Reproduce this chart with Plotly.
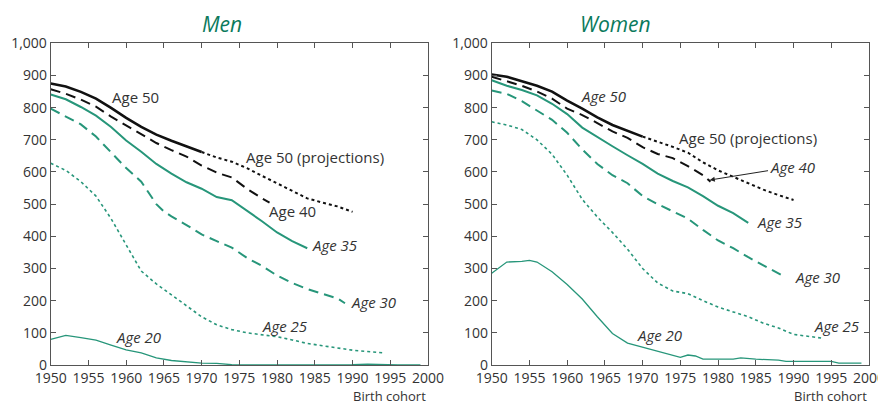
import plotly.graph_objects as go

# ---------------- DATA ----------------
# Men
m50_years = [1950, 1952, 1954, 1956, 1958, 1960, 1962, 1964, 1966, 1968, 1970]
m50_vals = [875, 866, 849, 828, 799, 768, 740, 716, 697, 679, 662]
m50p_years = [1970, 1972, 1974, 1976, 1978, 1980, 1982, 1984, 1986, 1988, 1990]
m50p_vals = [662, 645, 632, 612, 588, 565, 540, 518, 505, 493, 476]
m40_years = [1950, 1952, 1954, 1956, 1958, 1960, 1962, 1964, 1966, 1968, 1970, 1972, 1974, 1976, 1978, 1979]
m40_vals = [857, 843, 825, 803, 772, 745, 718, 690, 668, 648, 620, 598, 583, 548, 518, 505]
m35_years = [1950, 1952, 1954, 1956, 1958, 1960, 1962, 1964, 1966, 1968, 1970, 1972, 1974, 1976, 1978, 1980, 1982, 1984]
m35_vals = [841, 826, 802, 775, 740, 698, 663, 625, 595, 568, 548, 522, 512, 480, 447, 412, 385, 363]
m30_years = [1950, 1952, 1954, 1956, 1958, 1960, 1962, 1964, 1965, 1966, 1968, 1970, 1972, 1974, 1976, 1978, 1980, 1982, 1984, 1986, 1988, 1989]
m30_vals = [797, 772, 748, 710, 660, 612, 570, 500, 477, 462, 435, 406, 385, 365, 333, 308, 278, 255, 236, 222, 207, 192]
m25_years = [1950, 1952, 1954, 1956, 1958, 1960, 1962, 1964, 1966, 1968, 1970, 1972, 1974, 1976, 1978, 1980, 1982, 1984, 1986, 1988, 1990, 1992, 1994]
m25_vals = [627, 605, 570, 525, 455, 372, 292, 252, 218, 183, 150, 125, 110, 100, 93, 88, 78, 67, 60, 52, 46, 42, 38]
m20_years = [1950, 1952, 1954, 1956, 1958, 1960, 1962, 1964, 1966, 1968, 1970, 1972, 1974, 1976, 1980, 1985, 1990, 1992, 1994, 1996, 1999]
m20_vals = [80, 92, 85, 77, 62, 47, 38, 22, 14, 10, 6, 5, 1, 0, 0, 0, 1, 3, 1, 0, 0]

# Women
w50_years = [1950, 1952, 1954, 1956, 1958, 1960, 1962, 1964, 1966, 1968, 1970]
w50_vals = [903, 896, 882, 868, 850, 822, 797, 770, 746, 728, 710]
w50p_years = [1970, 1972, 1974, 1976, 1978, 1980, 1982, 1984, 1986, 1988, 1990]
w50p_vals = [710, 695, 678, 660, 630, 605, 585, 563, 545, 528, 513]
w40_years = [1950, 1952, 1954, 1956, 1958, 1960, 1962, 1964, 1966, 1968, 1970, 1972, 1974, 1976, 1978, 1979]
w40_vals = [896, 883, 868, 850, 828, 797, 777, 752, 726, 706, 677, 656, 643, 618, 590, 570]
w35_years = [1950, 1952, 1954, 1956, 1958, 1960, 1962, 1964, 1966, 1968, 1970, 1972, 1974, 1976, 1978, 1980, 1982, 1984]
w35_vals = [885, 868, 855, 838, 812, 780, 738, 708, 680, 652, 625, 595, 572, 552, 525, 495, 472, 442]
w30_years = [1950, 1952, 1954, 1956, 1958, 1960, 1962, 1964, 1966, 1968, 1970, 1972, 1974, 1976, 1978, 1980, 1982, 1984, 1986, 1988, 1989]
w30_vals = [853, 843, 820, 790, 762, 722, 670, 625, 590, 565, 525, 500, 478, 455, 420, 387, 363, 335, 310, 285, 272]
w25_years = [1950, 1952, 1954, 1956, 1958, 1960, 1962, 1964, 1966, 1968, 1970, 1972, 1974, 1976, 1978, 1980, 1982, 1984, 1986, 1988, 1990, 1992, 1994]
w25_vals = [756, 746, 732, 700, 655, 590, 515, 460, 412, 360, 300, 255, 230, 222, 200, 180, 165, 150, 130, 115, 95, 88, 83]
w20_years = [1950, 1952, 1954, 1955, 1956, 1958, 1960, 1962, 1964, 1966, 1968, 1970, 1972, 1974, 1975, 1976, 1977, 1978, 1982, 1983, 1985, 1988, 1989, 1995, 1996, 1999]
w20_vals = [285, 320, 322, 325, 320, 290, 250, 205, 150, 98, 68, 55, 42, 30, 24, 31, 28, 18, 18, 22, 18, 15, 11, 11, 6, 6]

x_ticks = list(range(1950, 2001, 5))
y_ticks = list(range(0, 1001, 100))

# ---------------- STYLE ----------------
GREEN = "#27967a"
TITLE_GREEN = "#0b7a5c"
BLACK = "#111111"
TXT = "#333333"
FONT = "Open Sans"
W, H = 886, 408
OFF = 8  # page body margin: the figure is drawn 8px right/down of the window corner


def px_x(p):
    return (p - OFF) / W


def px_y(p):
    return 1 - (p - OFF) / H


fig = go.Figure()


def add(xs, ys, color, width, dash, axis):
    fig.add_trace(go.Scatter(x=xs, y=ys, mode="lines",
                             line=dict(color=color, width=width, dash=dash),
                             xaxis="x" if axis == 1 else "x2",
                             yaxis="y" if axis == 1 else "y2",
                             hoverinfo="skip", showlegend=False))


for ax, d in ((1, dict(a20=(m20_years, m20_vals), a25=(m25_years, m25_vals), a30=(m30_years, m30_vals),
                        a35=(m35_years, m35_vals), a40=(m40_years, m40_vals), a50=(m50_years, m50_vals),
                        a50p=(m50p_years, m50p_vals))),
              (2, dict(a20=(w20_years, w20_vals), a25=(w25_years, w25_vals), a30=(w30_years, w30_vals),
                        a35=(w35_years, w35_vals), a40=(w40_years, w40_vals), a50=(w50_years, w50_vals),
                        a50p=(w50p_years, w50p_vals)))):
    add(*d["a20"], GREEN, 1.3, "solid", ax)
    add(*d["a25"], GREEN, 1.6, "dot", ax)
    add(*d["a30"], GREEN, 2.0, "10px,6px", ax)
    add(*d["a35"], GREEN, 2.0, "solid", ax)
    add(*d["a40"], BLACK, 2.0, "10px,6px", ax)
    add(*d["a50"], BLACK, 2.6, "solid", ax)
    add(*d["a50p"], BLACK, 2.0, "dot", ax)

axis_common = dict(showline=True, mirror="ticks", linecolor="#555555", linewidth=1,
                   ticks="inside", ticklen=5, tickcolor="#555555", tickwidth=1,
                   showgrid=False, zeroline=False, automargin=False,
                   tickfont=dict(family=FONT, size=14, color=TXT))

ydom = [px_y(365), px_y(43.3)]
fig.update_layout(
    width=W, height=H,
    margin=dict(l=0, r=0, t=0, b=0, pad=0),
    paper_bgcolor="white", plot_bgcolor="white",
    font=dict(family=FONT, color=TXT),
    xaxis=dict(domain=[px_x(50.7), px_x(428)], range=[1950, 2000], tickvals=x_ticks, anchor="y", **axis_common),
    yaxis=dict(domain=ydom, range=[0, 1000], tickvals=y_ticks, tickformat=",", anchor="x", **axis_common),
    xaxis2=dict(domain=[px_x(491.7), px_x(869)], range=[1950, 2000], tickvals=x_ticks, anchor="y2", **axis_common),
    yaxis2=dict(domain=ydom, range=[0, 1000], tickvals=y_ticks, tickformat=",", anchor="x2", **axis_common),
)


def label(text, x, y, axis, italic=True, **kw):
    fig.add_annotation(text=text, x=x, y=y, xref="x" if axis == 1 else "x2",
                       yref="y" if axis == 1 else "y2", showarrow=False,
                       font=dict(family=FONT, size=15, color=TXT, style="italic" if italic else "normal"),
                       **kw)


# Men labels
label("Age 50", 1961.2, 834, 1, italic=False)
label("Age 50 (projections)", 1985.0, 648, 1, italic=False)
label("Age 40", 1982.1, 480, 1, italic=False)
label("Age 35", 1987.7, 373, 1)
label("Age 30", 1992.8, 197, 1)
label("Age 25", 1981.0, 121, 1)
label("Age 20", 1961.6, 88, 1)

# Women labels
label("Age 50", 1964.8, 836, 2)
label("Age 50 (projections)", 1984.0, 705, 2, italic=False)
label("Age 35", 1988.2, 445, 2)
label("Age 30", 1993.2, 274, 2)
label("Age 25", 1995.7, 121, 2)
label("Age 20", 1972.2, 93, 2)
fig.add_annotation(text="Age 40", x=1978.9, y=575, xref="x2", yref="y2",
                   ax=1989.8, ay=616, axref="x2", ayref="y2",
                   showarrow=True, arrowhead=2, arrowsize=1, arrowwidth=1, arrowcolor="#222222",
                   font=dict(family=FONT, size=15, color=TXT, style="italic"))

# Panel titles
for txt, xc in (("Men", 222), ("Women", 615)):
    fig.add_annotation(text=txt, x=px_x(xc), y=px_y(8), xref="paper", yref="paper",
                       showarrow=False, xanchor="center", yanchor="top",
                       font=dict(family=FONT, size=21, color=TITLE_GREEN, style="italic"))

# Axis titles
for xr in (428, 869):
    fig.add_annotation(text="Birth cohort", x=px_x(xr), y=px_y(396), xref="paper", yref="paper",
                       showarrow=False, xanchor="right", yanchor="middle",
                       font=dict(family=FONT, size=13, color=TXT))

fig.write_html("out.html")
